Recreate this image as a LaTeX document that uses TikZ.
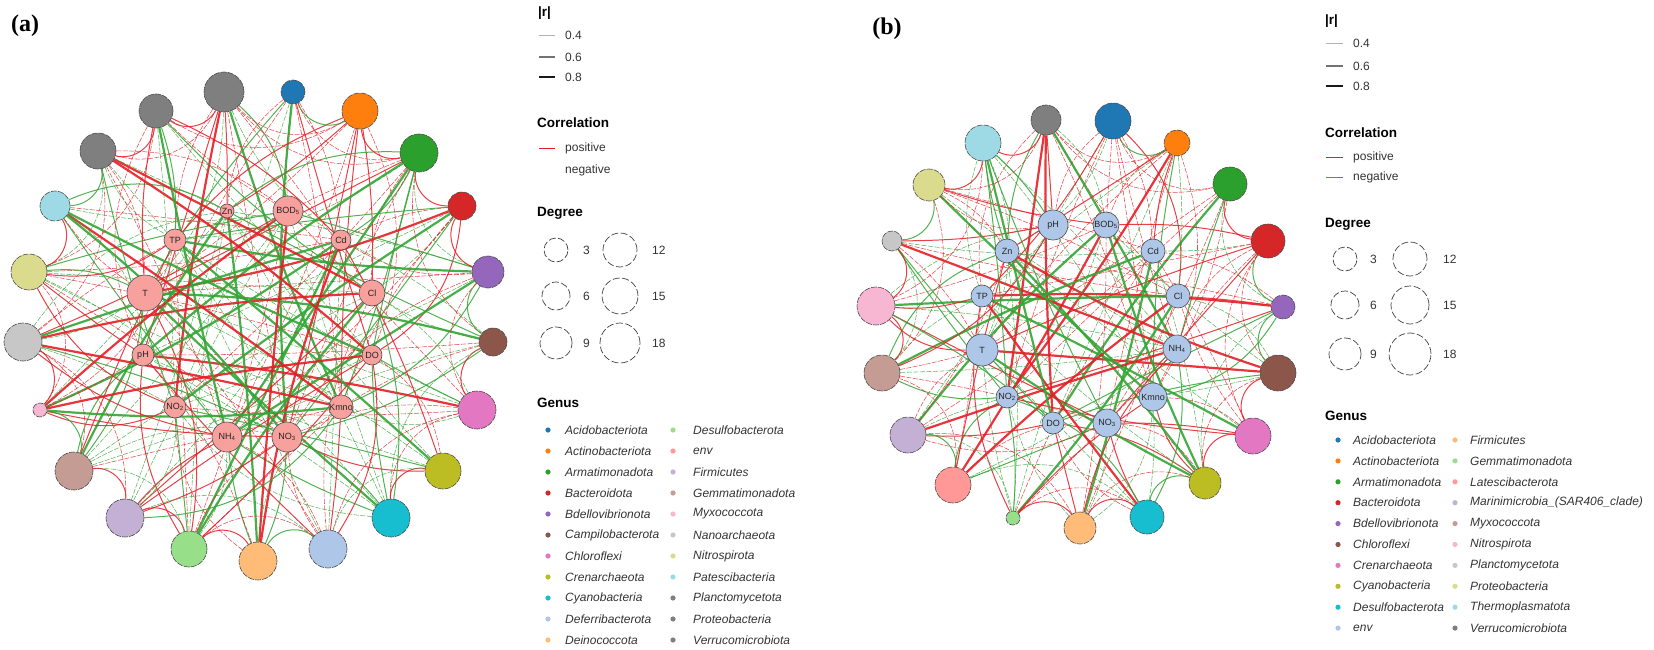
\documentclass[tikz,border=0pt]{standalone}
\usepackage{fontspec}
\setmainfont{Liberation Sans}
\newfontfamily\panelfont{Liberation Serif}
\definecolor{c1}{HTML}{1F77B4}
\definecolor{c2}{HTML}{FF7F0E}
\definecolor{c3}{HTML}{2CA02C}
\definecolor{c4}{HTML}{D62728}
\definecolor{c5}{HTML}{9467BD}
\definecolor{c6}{HTML}{8C564B}
\definecolor{c7}{HTML}{E377C2}
\definecolor{c8}{HTML}{BCBD22}
\definecolor{c9}{HTML}{17BECF}
\definecolor{c10}{HTML}{AEC7E8}
\definecolor{c11}{HTML}{FFBB78}
\definecolor{c12}{HTML}{98DF8A}
\definecolor{c13}{HTML}{FF9896}
\definecolor{c14}{HTML}{C5B0D5}
\definecolor{c15}{HTML}{C49C94}
\definecolor{c16}{HTML}{F7B6D2}
\definecolor{c17}{HTML}{C7C7C7}
\definecolor{c18}{HTML}{DBDB8D}
\definecolor{c19}{HTML}{9EDAE5}
\definecolor{cg}{HTML}{7F7F7F}
\definecolor{ered}{HTML}{E41F26}
\definecolor{egreen}{HTML}{34A535}
\definecolor{infillA}{HTML}{F7A09C}
\definecolor{infillB}{HTML}{AEC7E8}
\pgfdeclarelayer{edgelayer}
\pgfsetlayers{edgelayer,main}
\begin{document}
\begin{tikzpicture}[x=1pt,y=-1pt,
  onode/.style={circle,draw=black!70,line width=0.6pt,inner sep=0pt,dash pattern=on 6pt off 1.2pt},
  inode/.style={circle,draw=black!70,line width=0.6pt,inner sep=0pt,text=black!85,font=\fontsize{9}{9}\selectfont},
  thickE/.style={line width=2.2pt,opacity=0.9},
  medE/.style={line width=1.0pt,opacity=0.85},
  thinE/.style={line width=0.55pt,dash pattern=on 5pt off 1.5pt,opacity=0.8},
  lgtext/.style={anchor=west,inner sep=0pt,font=\fontsize{12}{14}\selectfont,text=black!80},
  lghead/.style={anchor=west,inner sep=0pt,font=\bfseries\fontsize{13.5}{15}\selectfont},
  lgitem/.style={anchor=west,inner sep=0pt,font=\itshape\fontsize{12}{14}\selectfont,text=black!80},
  legc/.style={draw=black!75,line width=0.7pt,dash pattern=on 7pt off 2.5pt},
  panellab/.style={inner sep=0pt,font=\panelfont\bfseries\fontsize{24}{24}\selectfont}]
\useasboundingbox (0,0) rectangle (1654,650);

% ================= panel (a) =================
\node[panellab] (labA) at (25,26) {(a)};
\foreach \n/\x/\y/\r/\c in {1/224/92/20/cg,2/293/92/12/c1,3/360/111/18/c2,4/419/153/19/c3,5/462/206/14/c4,6/488/272/16/c5,7/493/342/14/c6,8/477/410/19/c7,9/443/471/18/c8,10/391/518/19/c9,11/328/549/19/c10,12/258/561/19/c11,13/189/549/18/c12,14/125/518/19/c14,15/74/471/19/c15,16/40/410/7/c16,17/23/342/19/c17,18/29/272/18/c18,19/55/206/15/c19,20/98/151/18/cg,21/156/111/17/cg}
  {\node[onode,fill=\c,minimum size=2*\r] (a\n) at (\x,\y) {};}
\foreach \n/\x/\y/\r/\t in {1/288/211/15/BOD\textsubscript{5},2/341/240/10/Cd,3/372/293/13/Cl,4/372/355/10/DO,5/341/407/10/Kmno,6/287/437/15/NO\textsubscript{3},7/227/437/15/NH\textsubscript{4},8/175/407/11/NO\textsubscript{2},9/143/355/11/pH,10/145/293/18/T,11/175/240/11/TP,12/227/211/7/Zn}
  {\node[inode,fill=infillA,minimum size=2*\r] (ai\n) at (\x,\y) {\t};}

\begin{pgfonlayer}{edgelayer}
\foreach \i in {1,...,21}{
 \foreach \j in {1,...,12}{
  \pgfmathtruncatemacro\h{mod(\i*37+\j*53+\i*\j*11,100)}
  \ifnum\h<78
   \pgfmathsetmacro\df{mod(-9+(\i-1)*17.14-15-(\j-1)*30+720,360)}
   \pgfmathsetmacro\fd{min(\df,360-\df)}
   \pgfmathtruncatemacro\hw{mod(\i*13+\j*19+\i*\j*5,100)}
   \pgfmathtruncatemacro\hc{mod(\i*17+\j*29+\i*\j*7,100)}
   \pgfmathtruncatemacro\isthick{(\fd>110)&&(\hw<42)}
   \pgfmathtruncatemacro\bd{(mod(\i*11+\j*7,21)-10)*(\fd<90?2.6:0.6)}
   \ifnum\hc<52 \def\ecl{ered}\else\def\ecl{egreen}\fi
   \ifnum\isthick=1 \draw[thickE,draw=\ecl] (a\i) to[bend left=\bd] (ai\j);
   \else\ifnum\hw<50 \draw[medE,draw=\ecl] (a\i) to[bend left=\bd] (ai\j);
   \else \draw[thinE,draw=\ecl] (a\i) to[bend left=\bd] (ai\j);\fi\fi
  \fi
 }
}
\foreach \i in {1,...,21}{
 \foreach \s in {1,2,3}{
  \pgfmathtruncatemacro\k{mod(\i+\s-1,21)+1}
  \pgfmathtruncatemacro\h{mod(\i*31+\s*47+\i*\s*13,100)}
  \pgfmathtruncatemacro\thr{\s==1?85:(\s==2?55:35)}
  \ifnum\h<\thr
   \pgfmathtruncatemacro\hc{mod(\i*23+\s*41,100)}
   \ifnum\hc<70 \def\ecl{ered}\else\def\ecl{egreen}\fi
   \pgfmathtruncatemacro\ang{\s==1?50:(\s==2?40:32)}
   \ifnum\s=1 \draw[medE,draw=\ecl] (a\i) to[bend right=\ang] (a\k);
   \else \draw[thinE,draw=\ecl] (a\i) to[bend right=\ang] (a\k);\fi
  \fi
 }
}
\end{pgfonlayer}

% legend (a)
\node[lghead] (ra) at (538,13) {|r|};
\draw[line width=0.6pt,draw=black!30] (539,35) -- (555,35);
\draw[line width=1.3pt,draw=black!55] (539,57) -- (555,57);
\draw[line width=2pt,draw=black!90] (539,77) -- (555,77);
\node[lgtext] (ra1) at (565,35) {0.4};
\node[lgtext] (ra2) at (565,57) {0.6};
\node[lgtext] (ra3) at (565,77) {0.8};
\node[lghead] (ca) at (537,123) {Correlation};
\draw[line width=0.9pt,draw=ered] (539,148) -- (555,148);
\node[lgtext] (cap) at (565,148) {positive};
\node[lgtext] (can) at (565,170) {negative};
\node[lghead] (da) at (537,213) {Degree};
\draw[legc] (556,250) circle[radius=12pt];
\draw[legc] (556,296) circle[radius=14pt];
\draw[legc] (556,343) circle[radius=16pt];
\draw[legc] (620,250) circle[radius=17pt];
\draw[legc] (620,296) circle[radius=18pt];
\draw[legc] (620,343) circle[radius=20pt];
\node[lgtext] (da1) at (583,250) {3};
\node[lgtext] (da2) at (583,296) {6};
\node[lgtext] (da3) at (583,343) {9};
\node[lgtext] (da4) at (652,250) {12};
\node[lgtext] (da5) at (652,296) {15};
\node[lgtext] (da6) at (652,343) {18};
\node[lghead] (ga) at (537,403) {Genus};
\foreach \t/\c [count=\k from 0] in {Acidobacteriota/c1,Actinobacteriota/c2,Armatimonadota/c3,Bacteroidota/c4,Bdellovibrionota/c5,Campilobacterota/c6,Chloroflexi/c7,Crenarchaeota/c8,Cyanobacteria/c9,Deferribacterota/c10,Deinococcota/c11}
  {\fill[\c] (548,430+21*\k) circle[radius=2.6pt];
   \node[lgitem] (gaa\k) at (565,430+21*\k) {\t};}
\foreach \t/\c [count=\k from 0] in {Desulfobacterota/c12,env/c13,Firmicutes/c14,Gemmatimonadota/c15,Myxococcota/c16,Nanoarchaeota/c17,Nitrospirota/c18,Patescibacteria/c19,Planctomycetota/cg,Proteobacteria/cg,Verrucomicrobiota/cg}
  {\fill[\c] (673,430+21*\k) circle[radius=2.6pt];
   \node[lgitem] (gab\k) at (693,430+21*\k) {\t};}

% ================= panel (b) =================
\node[panellab] (labB) at (887,29) {(b)};
\foreach \n/\x/\y/\r/\c in {1/1046/120/15/cg,2/1113/121/18/c1,3/1177/143/13/c2,4/1230/184/17/c3,5/1268/241/17/c4,6/1283/307/12/c5,7/1278/373/18/c6,8/1253/436/18/c7,9/1205/483/16/c8,10/1147/517/17/c9,11/1080/528/16/c11,12/1013/518/7/c12,13/953/485/18/c13,14/908/435/18/c14,15/882/373/18/c15,16/876/306/19/c16,17/892/241/10/c17,18/929/185/16/c18,19/983/143/18/c19}
  {\node[onode,fill=\c,minimum size=2*\r] (b\n) at (\x,\y) {};}
\foreach \n/\x/\y/\r/\t in {1/1106/225/13/BOD\textsubscript{5},2/1153/251/12/Cd,3/1178/296/12/Cl,4/1177/349/14/NH\textsubscript{4},5/1153/397/14/Kmno,6/1107/423/14/NO\textsubscript{3},7/1053/423/11/DO,8/1007/397/11/NO\textsubscript{2},9/982/350/16/T,10/982/296/11/TP,11/1007/251/12/Zn,12/1053/225/15/pH}
  {\node[inode,fill=infillB,minimum size=2*\r] (bi\n) at (\x,\y) {\t};}

\begin{pgfonlayer}{edgelayer}
\foreach \i in {1,...,19}{
 \foreach \j in {1,...,12}{
  \pgfmathtruncatemacro\h{mod(\i*41+\j*59+\i*\j*13,100)}
  \ifnum\h<68
   \pgfmathsetmacro\df{mod(-9.5+(\i-1)*18.95-15-(\j-1)*30+720,360)}
   \pgfmathsetmacro\fd{min(\df,360-\df)}
   \pgfmathtruncatemacro\hw{mod(\i*19+\j*23+\i*\j*3,100)}
   \pgfmathtruncatemacro\hc{mod(\i*29+\j*31+\i*\j*9,100)}
   \pgfmathtruncatemacro\isthick{(\fd>110)&&(\hw<36)}
   \pgfmathtruncatemacro\bd{(mod(\i*13+\j*5,21)-10)*(\fd<90?2.6:0.6)}
   \ifnum\hc<58 \def\ecl{ered}\else\def\ecl{egreen}\fi
   \ifnum\isthick=1 \draw[thickE,draw=\ecl] (b\i) to[bend left=\bd] (bi\j);
   \else\ifnum\hw<45 \draw[medE,draw=\ecl] (b\i) to[bend left=\bd] (bi\j);
   \else \draw[thinE,draw=\ecl] (b\i) to[bend left=\bd] (bi\j);\fi\fi
  \fi
 }
}
\foreach \i in {1,...,19}{
 \foreach \s in {1,2,3}{
  \pgfmathtruncatemacro\k{mod(\i+\s-1,19)+1}
  \pgfmathtruncatemacro\h{mod(\i*29+\s*43+\i*\s*17,100)}
  \pgfmathtruncatemacro\thr{\s==1?80:(\s==2?55:35)}
  \ifnum\h<\thr
   \pgfmathtruncatemacro\hc{mod(\i*27+\s*37,100)}
   \ifnum\hc<70 \def\ecl{ered}\else\def\ecl{egreen}\fi
   \pgfmathtruncatemacro\ang{\s==1?50:(\s==2?40:32)}
   \ifnum\s=1 \draw[medE,draw=\ecl] (b\i) to[bend right=\ang] (b\k);
   \else \draw[thinE,draw=\ecl] (b\i) to[bend right=\ang] (b\k);\fi
  \fi
 }
}
\end{pgfonlayer}

% legend (b)
\node[lghead] (rb) at (1325,21) {|r|};
\draw[line width=0.6pt,draw=black!30] (1326,43) -- (1343,43);
\draw[line width=1.3pt,draw=black!55] (1326,66) -- (1343,66);
\draw[line width=2pt,draw=black!90] (1326,86) -- (1343,86);
\node[lgtext] (rb1) at (1353,43) {0.4};
\node[lgtext] (rb2) at (1353,66) {0.6};
\node[lgtext] (rb3) at (1353,86) {0.8};
\node[lghead] (cb) at (1325,133) {Correlation};
\draw[line width=0.9pt,draw=ered] (1326,157) -- (1343,157);
\draw[line width=0.9pt,draw=egreen] (1326,177) -- (1343,177);
\node[lgtext] (cbp) at (1353,157) {positive};
\node[lgtext] (cbn) at (1353,177) {negative};
\node[lghead] (db) at (1325,224) {Degree};
\draw[legc] (1345,259) circle[radius=12pt];
\draw[legc] (1345,305) circle[radius=14pt];
\draw[legc] (1345,354) circle[radius=16pt];
\draw[legc] (1410,259) circle[radius=17pt];
\draw[legc] (1410,305) circle[radius=19pt];
\draw[legc] (1410,354) circle[radius=21pt];
\node[lgtext] (db1) at (1370,259) {3};
\node[lgtext] (db2) at (1370,305) {6};
\node[lgtext] (db3) at (1370,354) {9};
\node[lgtext] (db4) at (1443,259) {12};
\node[lgtext] (db5) at (1443,305) {15};
\node[lgtext] (db6) at (1443,354) {18};
\node[lghead] (gb) at (1325,416) {Genus};
\foreach \t/\c [count=\k from 0] in {Acidobacteriota/c1,Actinobacteriota/c2,Armatimonadota/c3,Bacteroidota/c4,Bdellovibrionota/c5,Chloroflexi/c6,Crenarchaeota/c7,Cyanobacteria/c8,Desulfobacterota/c9,env/c10}
  {\fill[\c] (1338,440+20.9*\k) circle[radius=2.6pt];
   \node[lgitem] (gba\k) at (1353,440+20.9*\k) {\t};}
\foreach \t/\c [count=\k from 0] in {Firmicutes/c11,Gemmatimonadota/c12,Latescibacterota/c13,Marinimicrobia\_(SAR406\_clade)/c14,Myxococcota/c15,Nitrospirota/c16,Planctomycetota/c17,Proteobacteria/c18,Thermoplasmatota/c19,Verrucomicrobiota/cg}
  {\fill[\c] (1455,440+20.9*\k) circle[radius=2.6pt];
   \node[lgitem] (gbb\k) at (1470,440+20.9*\k) {\t};}
\end{tikzpicture}
\end{document}
